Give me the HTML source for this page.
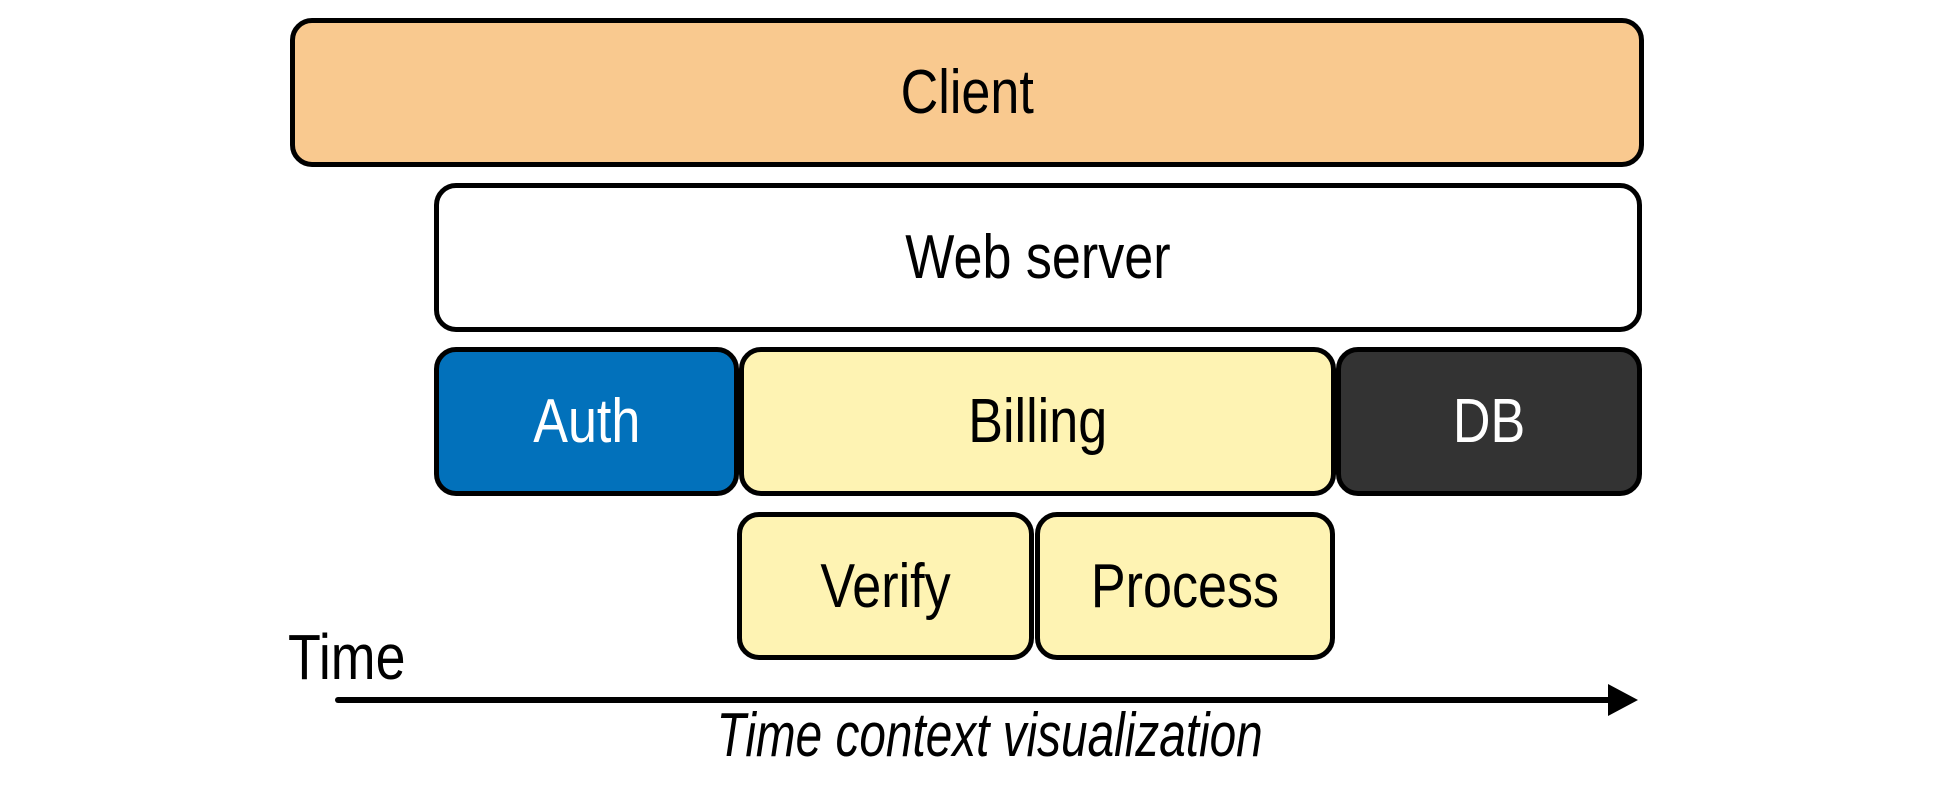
<!DOCTYPE html>
<html><head><style>
body{margin:0;width:1934px;height:798px;background:#fff;position:relative;overflow:hidden;font-family:"Liberation Sans",sans-serif;}
.b{position:absolute;box-sizing:border-box;border:5px solid #000;border-radius:22px;display:flex;align-items:center;justify-content:center;font-size:62px;}
.b span,.t span{display:inline-block;transform:scaleX(0.84);white-space:nowrap;}
.t{position:absolute;font-size:62px;white-space:nowrap;}
</style></head><body>
<div class="b" style="left:290px;top:18px;width:1354px;height:149px;background:#F9C98F"><span>Client</span></div>
<div class="b" style="left:434px;top:183px;width:1208px;height:149px;background:#fff"><span>Web server</span></div>
<div class="b" style="left:434px;top:347px;width:305px;height:149px;background:#0271BB;color:#fff"><span>Auth</span></div>
<div class="b" style="left:739px;top:347px;width:597px;height:149px;background:#FEF3B3"><span>Billing</span></div>
<div class="b" style="left:1336px;top:347px;width:306px;height:149px;background:#333;color:#fff"><span>DB</span></div>
<div class="b" style="left:737px;top:512px;width:297px;height:148px;background:#FEF3B3"><span>Verify</span></div>
<div class="b" style="left:1035px;top:512px;width:300px;height:148px;background:#FEF3B3"><span>Process</span></div>
<div class="t" style="left:288px;top:620px;font-size:64px"><span style="transform-origin:left">Time</span></div>
<svg style="position:absolute;left:0;top:0" width="1934" height="798">
<line x1="338" y1="700" x2="1615" y2="700" stroke="#000" stroke-width="6" stroke-linecap="round"/>
<polygon points="1608,684 1638,700 1608,716" fill="#000"/>
</svg>
<div class="t" style="left:590px;top:700px;width:800px;text-align:center;font-style:italic;font-size:62px"><span style="transform:scaleX(0.77)">Time context visualization</span></div>
</body></html>
